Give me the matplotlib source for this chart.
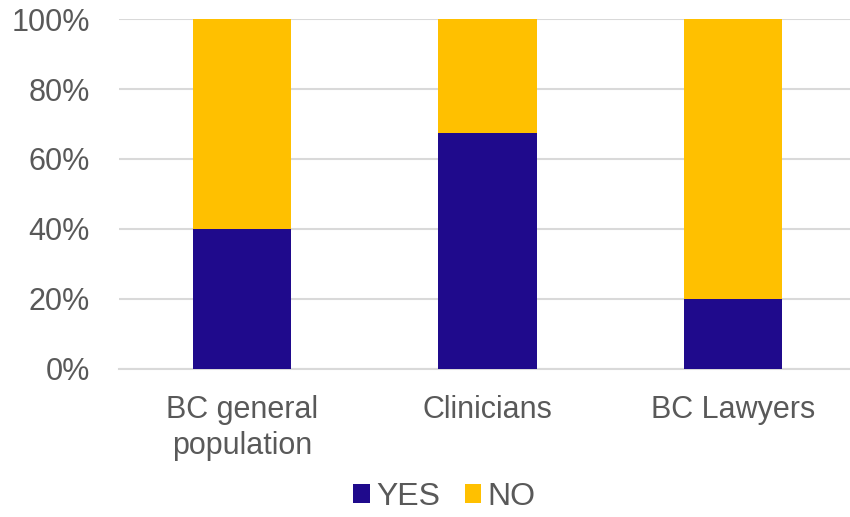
import matplotlib.pyplot as plt
from matplotlib.ticker import PercentFormatter

categories = ["BC general\npopulation", "Clinicians", "BC Lawyers"]
yes_pct = [40, 67.5, 20]
no_pct = [60, 32.5, 80]

plt.rcParams['font.family'] = ['Liberation Sans', 'DejaVu Sans']
text_color = '#595959'

fig = plt.figure(figsize=(8.5, 5.17), dpi=100)
ax = fig.add_axes([0.14, 0.287, 0.867, 0.676])

x = range(len(categories))
ax.bar(x, yes_pct, width=0.4, color='#1f0a8c', label='YES', zorder=3)
ax.bar(x, no_pct, width=0.4, bottom=yes_pct, color='#ffc000', label='NO', zorder=3)

ax.set_ylim(0, 100)
ax.set_xlim(-0.5, 2.5)
ax.set_yticks(range(0, 101, 20))
ax.yaxis.set_major_formatter(PercentFormatter(decimals=0))
ax.set_xticks(list(x))
ax.set_xticklabels(categories, linespacing=1.25)
ax.grid(axis='y', color='#d9d9d9', linewidth=1.5, zorder=0)
for side in ['top', 'right', 'left']:
    ax.spines[side].set_visible(False)
ax.spines['bottom'].set_color('#d9d9d9')
ax.spines['bottom'].set_linewidth(1.5)
ax.tick_params(axis='both', length=0, labelsize=22, colors=text_color)
ax.tick_params(axis='y', pad=21)
ax.tick_params(axis='x', pad=19)

fig.legend(loc='lower center', bbox_to_anchor=(0.523, -0.045), ncol=2, frameon=False,
           fontsize=23, labelcolor=text_color, handlelength=0.53, handleheight=0.53,
           handletextpad=0.2, columnspacing=0.75)

fig.savefig('out.png', dpi=100)
